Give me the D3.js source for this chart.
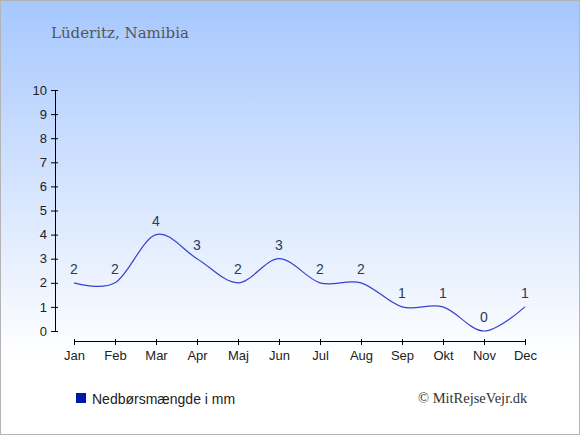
<!DOCTYPE html>
<html>
<head>
<meta charset="utf-8">
<script src="https://cdn.jsdelivr.net/npm/d3@7"></script>
<style>
  body { margin: 0; background: #fff; }
  svg { display: block; }
</style>
</head>
<body>
<div id="chart"></div>
<script>
// DATA
var months = ["Jan", "Feb", "Mar", "Apr", "Maj", "Jun", "Jul", "Aug", "Sep", "Okt", "Nov", "Dec"];
var rain = [2, 2, 4, 3, 2, 3, 2, 2, 1, 1, 0, 1];
var yTicks = [0, 1, 2, 3, 4, 5, 6, 7, 8, 9, 10];

var W = 580, H = 435;

var svg = d3.select("#chart")
    .append("svg")
    .attr("width", W)
    .attr("height", H);

// background gradient
var grad = svg.append("defs")
    .append("linearGradient")
    .attr("id", "bg")
    .attr("x1", 0).attr("y1", 0)
    .attr("x2", 0).attr("y2", 1);
grad.append("stop").attr("offset", "0%").attr("stop-color", "#a6c7fe");
grad.append("stop").attr("offset", "82%").attr("stop-color", "#ffffff");
grad.append("stop").attr("offset", "100%").attr("stop-color", "#ffffff");

svg.append("rect")
    .attr("x", 0.5).attr("y", 0.5)
    .attr("width", W - 1).attr("height", H - 1)
    .attr("fill", "url(#bg)")
    .attr("stroke", "#b4b4b4");

// title
svg.append("text")
    .attr("x", 51)
    .attr("y", 38)
    .style("font-family", "'DejaVu Serif', serif")
    .style("font-size", "15px")
    .style("fill", "#555")
    .text("Lüderitz, Namibia");

// scales
var x = d3.scalePoint()
    .domain(months)
    .range([74, 525]);

var y = d3.scaleLinear()
    .domain([0, 10])
    .range([331, 90]);

// y axis
var yAxis = svg.append("g")
    .attr("transform", "translate(55,0)")
    .call(d3.axisLeft(y).tickValues(yTicks).tickSize(4).tickPadding(4).tickSizeOuter(0));
yAxis.selectAll(".tick line").attr("x2", 3).attr("x1", -4);

// x axis
var xAxis = svg.append("g")
    .attr("transform", "translate(0,341)")
    .call(d3.axisBottom(x).tickSize(4).tickPadding(6).tickSizeOuter(0));
xAxis.selectAll(".tick line").attr("y1", -2);

svg.selectAll(".domain").attr("stroke", "#000");
svg.selectAll(".tick line").attr("stroke", "#000");
svg.selectAll(".tick text")
    .style("font-family", "'Liberation Sans', Arial, sans-serif")
    .style("font-size", "13px")
    .style("fill", "#222");

// line
var line = d3.line()
    .x(function (d, i) { return x(months[i]); })
    .y(function (d) { return y(d); })
    .curve(d3.curveCardinal.tension(0));

svg.append("path")
    .datum(rain)
    .attr("d", line)
    .attr("fill", "none")
    .attr("stroke", "#3543cc")
    .attr("stroke-width", 1.2);

// value labels
svg.selectAll("text.val")
    .data(rain)
    .enter()
    .append("text")
    .attr("class", "val")
    .attr("x", function (d, i) { return x(months[i]); })
    .attr("y", function (d) { return y(d) - 9; })
    .attr("text-anchor", "middle")
    .style("font-family", "'Liberation Sans', Arial, sans-serif")
    .style("font-size", "14px")
    .style("fill", "#2e3a5a")
    .text(function (d) { return d; });

// legend
svg.append("rect")
    .attr("x", 76).attr("y", 393)
    .attr("width", 10).attr("height", 10)
    .attr("fill", "#0019a8");

svg.append("text")
    .attr("x", 92)
    .attr("y", 404)
    .style("font-family", "'Liberation Sans', Arial, sans-serif")
    .style("font-size", "14px")
    .style("fill", "#222")
    .text("Nedbørsmængde i mm");

svg.append("text")
    .attr("x", 418)
    .attr("y", 403)
    .style("font-family", "'Liberation Serif', serif")
    .style("font-size", "14.5px")
    .style("fill", "#333")
    .text("© MitRejseVejr.dk");
</script>
</body>
</html>
